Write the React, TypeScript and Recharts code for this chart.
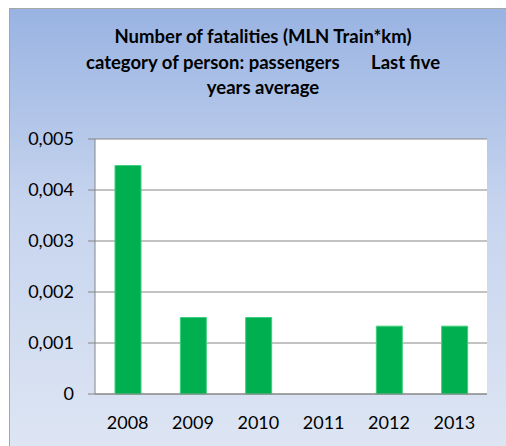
import { BarChart, Bar, XAxis, YAxis, CartesianGrid } from "recharts";

const years = ["2008", "2009", "2010", "2011", "2012", "2013"];
const fatalities = [0.00448, 0.0015, 0.0015, 0, 0.00133, 0.00133];
const yTicks = [0, 0.001, 0.002, 0.003, 0.004, 0.005];
const edgeTicks = [0, 1, 2, 3, 4, 5, 6];

const data = years.map((year, i) => ({ year, value: fatalities[i] }));

const FONT = "Lato, 'Open Sans', sans-serif";
const GRID = "#868686";

function formatTick(v: number): string {
    if (v === 0) return "0";
    return v.toFixed(3).replace(".", ",");
}

export default function App() {
    return (
        <div
            style={{
                position: "absolute",
                left: 0,
                top: 0,
                width: 506,
                height: 446,
                background: "#fff",
                fontFamily: FONT,
            }}
        >
            <div
                style={{
                    position: "absolute",
                    left: 9,
                    top: 8,
                    right: 0,
                    bottom: 0,
                    borderLeft: "1px solid #a6a6a6",
                    borderTop: "1px solid #a6a6a6",
                    background: "linear-gradient(to bottom, #99b3e2 0%, #c6d4ee 45%, #dde5f3 100%)",
                }}
            />
            <div
                style={{
                    position: "absolute",
                    left: 9,
                    width: 508,
                    top: 24,
                    textAlign: "center",
                    fontWeight: 700,
                    fontSize: 18.5,
                    lineHeight: "25.5px",
                    color: "#000",
                    whiteSpace: "pre",
                }}
            >
                {"Number of fatalities (MLN Train*km)\ncategory of person: passengers       Last five\nyears average"}
            </div>
            <div style={{ position: "absolute", left: 0, top: 0 }}>
                <BarChart
                    width={506}
                    height={446}
                    data={data}
                    margin={{ top: 139, right: 19, bottom: 0, left: 0 }}
                >
                    <CartesianGrid
                        vertical={false}
                        stroke={GRID}
                        fill="#ffffff"
                        fillOpacity={1}
                    />
                    <XAxis
                        xAxisId="edges"
                        type="number"
                        domain={[0, 6]}
                        ticks={edgeTicks}
                        tick={false}
                        tickSize={6}
                        axisLine={false}
                        tickLine={{ stroke: GRID }}
                        height={0}
                    />
                    <XAxis
                        dataKey="year"
                        height={52}
                        tickLine={false}
                        tickSize={0}
                        tickMargin={22}
                        axisLine={{ stroke: GRID }}
                        tick={{ fill: "#000", fontSize: 18, fontFamily: FONT }}
                    />
                    <YAxis
                        width={95}
                        domain={[0, 0.005]}
                        ticks={yTicks}
                        tickFormatter={formatTick}
                        tickSize={7}
                        tickMargin={14}
                        axisLine={{ stroke: GRID }}
                        tickLine={{ stroke: GRID }}
                        tick={{ fill: "#000", fontSize: 18, fontFamily: FONT }}
                    />
                    <Bar
                        dataKey="value"
                        fill="#00b050"
                        stroke="#3fcf7f"
                        strokeWidth={1}
                        barSize={26}
                        isAnimationActive={false}
                    />
                </BarChart>
            </div>
        </div>
    );
}
